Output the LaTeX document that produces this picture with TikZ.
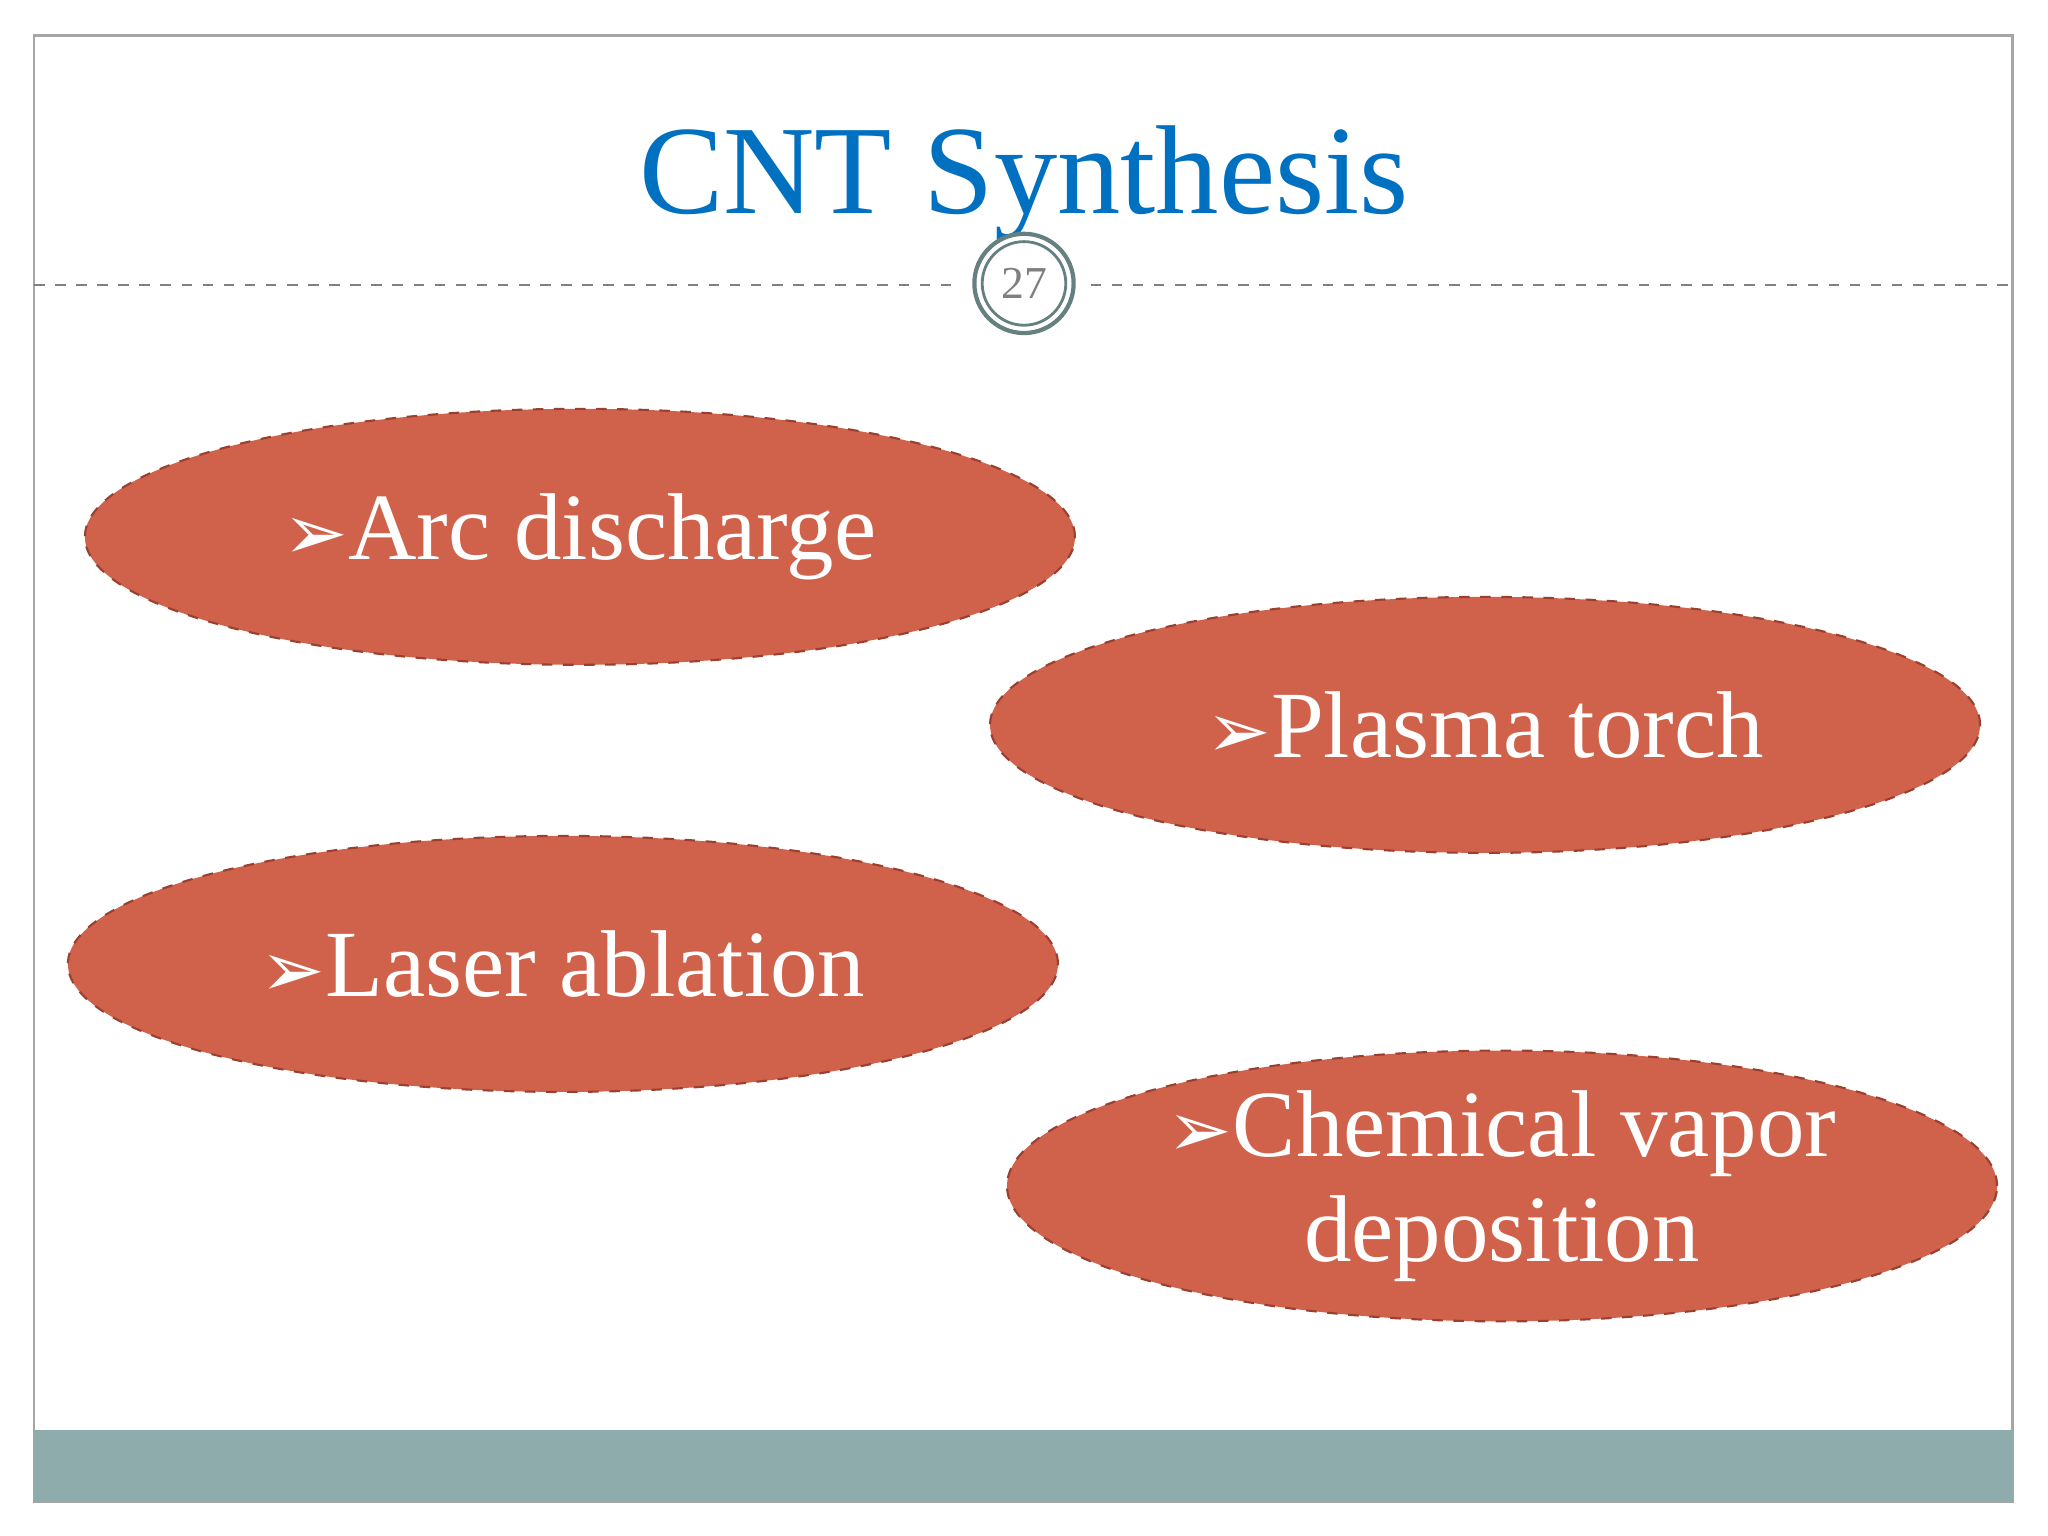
\documentclass[tikz,border=0pt]{standalone}
\usepackage{fontspec}
\setmainfont{Liberation Serif}
\newfontfamily\dv{DejaVu Sans}
\definecolor{ell}{HTML}{D0614A}
\definecolor{elld}{HTML}{9A4030}
\definecolor{bar}{HTML}{8FACAD}
\definecolor{ttl}{HTML}{0070C0}
\tikzset{
  oval/.style={ellipse, draw=elld, dashed, line width=0.6pt, fill=ell, minimum width=758*0.01306cm, minimum height=196*0.01306cm, inner sep=0pt, text=white, font=\fontsize{27}{30}\selectfont, align=center},
}
\usetikzlibrary{shapes.geometric}
\newcommand{\arr}{{\dv\fontsize{22}{24}\selectfont ➢}}
\begin{document}
\begin{tikzpicture}[x=0.01306cm,y=-0.01306cm]
\useasboundingbox (0,0) rectangle (1568,1176);
\fill[white] (0,0) rectangle (1568,1176);
\draw[gray!70, line width=0.8pt] (26,27) rectangle (1541,1150);
\fill[bar] (26,1095) rectangle (1541,1150);
\draw[gray, dashed, line width=0.5pt] (26,218) -- (735,218);
\draw[gray, dashed, line width=0.5pt] (835,218) -- (1541,218);
\node[font=\fontsize{36}{40}\selectfont, text=ttl] (title) at (784,140) {CNT Synthesis};
\node[circle, draw=gray!80!teal, line width=1.2pt, fill=white, minimum size=76*0.01306cm] (pg) at (784,217) {};
\draw[gray!80!teal, line width=0.8pt] (pg.center) circle (32);
\node[text=gray, font=\fontsize{13}{14}\selectfont] (pgn) at (784,217) {27};
\node[oval] (a) at (444,411) {\arr Arc discharge};
\node[oval] (b) at (1137,555) {\arr Plasma torch};
\node[oval] (c) at (431,738) {\arr Laser ablation};
\node[oval] (d) at (1150,908) {\arr Chemical vapor\\deposition};
\end{tikzpicture}
\end{document}
